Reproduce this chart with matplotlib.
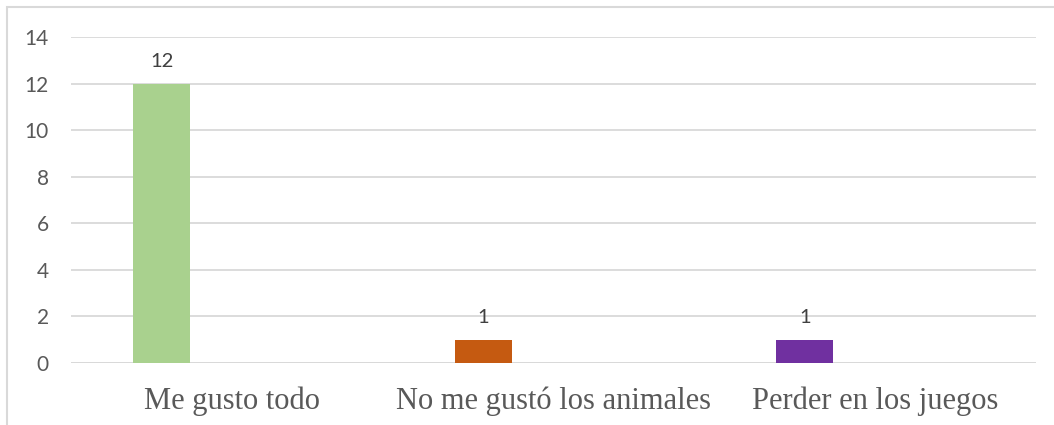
import numpy as np
import matplotlib
matplotlib.use("Agg")
import matplotlib.pyplot as plt
from matplotlib.patches import Rectangle

categories = ["Me gusto todo", "No me gustó los animales", "Perder en los juegos"]
values = [12, 1, 1]
colors = ["#a9d18e", "#c55a11", "#7030a0"]
yticks = [0, 2, 4, 6, 8, 10, 12, 14]

W, H = 1054, 425
fig = plt.figure(figsize=(W / 100, H / 100), dpi=100)
ax = fig.add_axes([71 / W, 62 / H, (1036 - 71) / W, (363 - 37) / H])

grid = "#d9d9d9"
text = "#595959"

# outer chart border (only top/left visible in the frame)
fig.patches.append(Rectangle((7 / W, -0.1), 1.2, (H - 7) / H + 0.1, transform=fig.transFigure,
                             fill=False, edgecolor=grid, lw=1.5, zorder=0))

x = np.arange(len(categories))
xb = x - 0.2185
ax.bar(xb, values, width=0.177, color=colors, zorder=3)
for xi, v in zip(xb, values):
    ax.annotate(str(v), (xi, v), xytext=(0, 10), textcoords="offset points",
                ha="center", va="bottom", fontsize=14.5, family="Lato", color="#404040")

ax.set_xlim(-0.5, 2.5)
ax.set_ylim(0, 14)
ax.set_yticks(yticks)
ax.yaxis.grid(True, color=grid, lw=1.3, zorder=0)
ax.set_axisbelow(True)
for s in ax.spines.values():
    s.set_visible(False)
ax.axhline(0, color=grid, lw=1.3, zorder=1)
ax.tick_params(axis="y", length=0, pad=16, labelsize=15, labelcolor=text)
for lab in ax.get_yticklabels():
    lab.set_family("Lato")
ax.set_xticks(x)
ax.set_xticklabels(categories, family="Liberation Serif", fontsize=22, color=text)
ax.tick_params(axis="x", length=0, pad=17)

fig.savefig("out.png", dpi=100)
